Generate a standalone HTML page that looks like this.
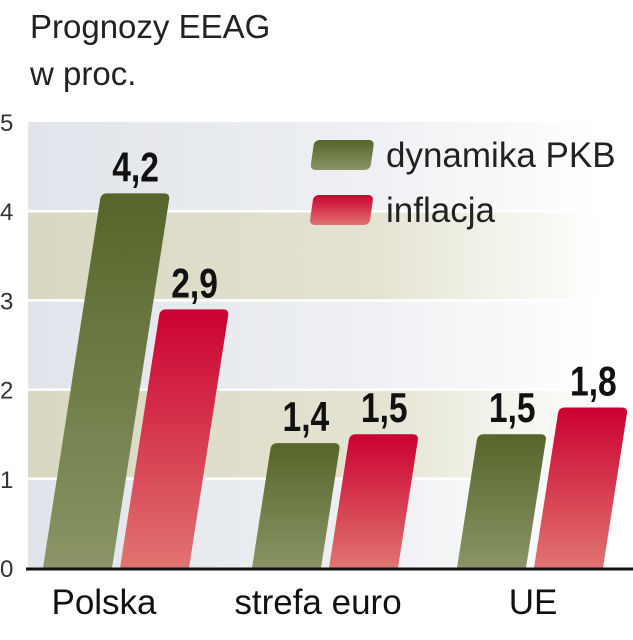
<!DOCTYPE html>
<html><head><meta charset="utf-8"><style>
body{margin:0;background:#fff;}
svg{display:block;font-family:"Liberation Sans",sans-serif;}
</style></head><body>
<svg id="chart" width="633" height="640" viewBox="0 0 633 640">
<defs>
<linearGradient id="gG" x1="0" y1="0" x2="0" y2="1"><stop offset="0" stop-color="#56652a"/><stop offset="1" stop-color="#8a9466"/></linearGradient>
<linearGradient id="gR" x1="0" y1="0" x2="0" y2="1"><stop offset="0" stop-color="#cc0030"/><stop offset="1" stop-color="#e07470"/></linearGradient>
<linearGradient id="bandO" x1="0" y1="0" x2="1" y2="0"><stop offset="0" stop-color="#d8d8c2"/><stop offset="0.6" stop-color="#e4e3d2"/><stop offset="1" stop-color="#ffffff"/></linearGradient>
<linearGradient id="bandB" x1="0" y1="0" x2="1" y2="0"><stop offset="0" stop-color="#e1e4ea"/><stop offset="0.6" stop-color="#eef0f3"/><stop offset="1" stop-color="#ffffff"/></linearGradient>
</defs>
<text x="30" y="38" font-size="33" fill="#222">Prognozy EEAG</text>
<text x="30" y="85" font-size="33" fill="#222">w proc.</text>
<g id="bands"></g>
<g id="bars"></g>
<g id="labels"></g>
<g>
<rect x="312" y="140" width="60" height="30" rx="5" fill="url(#gG)" transform="skewX(-8) translate(22,0)"/>
<text x="386" y="167" font-size="35" fill="#222">dynamika PKB</text>
<rect x="312" y="195" width="60" height="30" rx="5" fill="url(#gR)" transform="skewX(-8) translate(29,0)"/>
<text x="386" y="222" font-size="35" fill="#222">inflacja</text>
</g>
</svg>
<script>
const categories = ["Polska", "strefa euro", "UE"];
const gdpValues = [4.2, 1.4, 1.5];
const inflationValues = [2.9, 1.5, 1.8];
const valueLabels = [["4,2","1,4","1,5"],["2,9","1,5","1,8"]];
const yTicks = [0,1,2,3,4,5];

const NS="http://www.w3.org/2000/svg";
const base=568, unit=89.2, left=28, right=633, slant=0.155, barW=69;
const groupX=[43,252,457], seriesOff=[0,77];
function y(v){return base - v*unit;}
function mk(tag,attrs,parent){const e=document.createElementNS(NS,tag);for(const k in attrs)e.setAttribute(k,attrs[k]);parent.appendChild(e);return e;}
const bands=document.getElementById('bands'), bars=document.getElementById('bars'), labels=document.getElementById('labels');
for(let i=0;i<yTicks.length-1;i++){
  const r=mk('rect',{x:left,y:y(yTicks[i+1]),width:right-left-30,height:unit,fill:(i%2===1)?'url(#bandO)':'url(#bandB)'},bands);
  
  
}
yTicks.forEach(t=>{
  if(t>0 && t<5){const l=mk('line',{x1:left,x2:right-30,y1:y(t),y2:y(t),stroke:'#fff','stroke-width':2.5},bands);
  
  }
  const tx=mk('text',{x:0,y:y(t)+9,'font-size':24,fill:'#333'},labels);
  tx.textContent=t;
  
  
});
const series=[gdpValues,inflationValues], fills=['url(#gG)','url(#gR)'];
series.forEach((vals,s)=>{
  vals.forEach((v,i)=>{
    const x0=groupX[i]+seriesOff[s], yt=y(v), h=base-yt, sh=h*slant, r=6;
    const d=`M${x0},${base} L${x0+sh-r*slant},${yt+r} Q${x0+sh},${yt} ${x0+sh+r},${yt} L${x0+sh+barW-r},${yt} Q${x0+sh+barW},${yt} ${x0+sh+barW-r*slant},${yt+r} L${x0+barW},${base} Z`;
    const p=mk('path',{d:d,fill:fills[s]},bars);
    
    
    const cx=x0+sh+barW/2;
    const t=mk('text',{x:0,y:0,'text-anchor':'middle','font-size':42,'font-weight':'bold',fill:'#111',transform:`translate(${cx},${yt-12}) scale(0.8,1)`},labels);
    t.textContent=valueLabels[s][i];
    
    
  });
});
const ax=mk('line',{x1:left-2,x2:right,y1:base+1,y2:base+1,stroke:'#111','stroke-width':3},labels);


const catX=[104,318,533];
categories.forEach((c,i)=>{
  const t=mk('text',{x:catX[i],y:614,'text-anchor':'middle','font-size':35,fill:'#111'},labels);
  t.textContent=c;
  
  
});
</script>
</body></html>
